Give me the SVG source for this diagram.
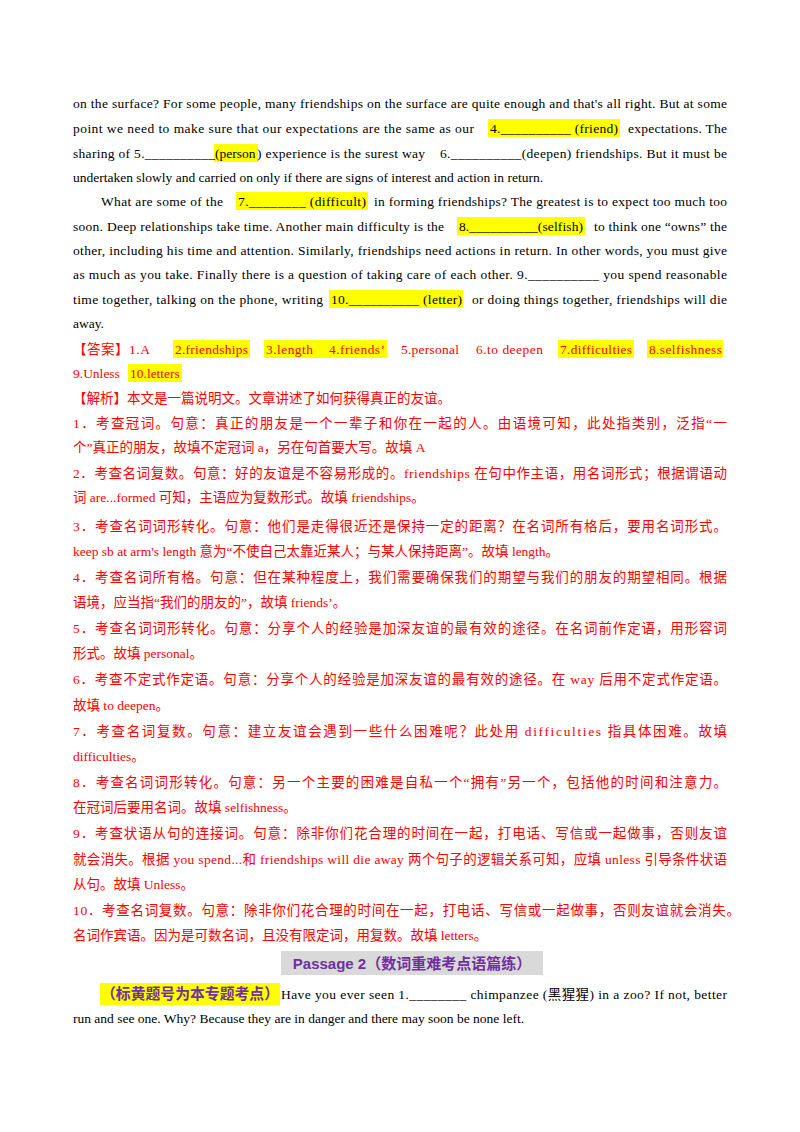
<svg xmlns="http://www.w3.org/2000/svg" width="800" height="1132" viewBox="0 0 800 1132">
<style>
text{font-family:"Liberation Serif","Noto Sans CJK SC",serif;font-size:13.5px;fill:#000}
.r{fill:#ff0000}
.hl{fill:#ffff00}
.h{font-family:"Liberation Sans","Noto Sans CJK SC",sans-serif;font-weight:bold;font-size:15px;fill:#7030a0}
.k{font-family:"Noto Sans CJK SC",sans-serif;font-weight:bold;fill:#7030a0}
</style>
<rect width="800" height="1132" fill="#fff"/>
<g id="highlights">
<rect class="hl" x="488" y="119" width="132" height="18"/>
<rect class="hl" x="214" y="144" width="44" height="18"/>
<rect class="hl" x="236" y="192" width="132" height="18"/>
<rect class="hl" x="457" y="217" width="128" height="18"/>
<rect class="hl" x="329" y="290" width="134" height="18"/>
<rect class="hl" x="173" y="340" width="77" height="18"/>
<rect class="hl" x="264" y="340" width="123" height="18"/>
<rect class="hl" x="558" y="340" width="76" height="18"/>
<rect class="hl" x="647" y="340" width="76" height="18"/>
<rect class="hl" x="128" y="364" width="54" height="18"/>
<rect x="281" y="951" width="262" height="24" fill="#d9d9d9"/>
<rect class="hl" x="100" y="983" width="180" height="22"/>
</g>
<g id="passage">
<text x="73" y="108" textLength="654" lengthAdjust="spacing">on the surface? For some people, many friendships on the surface are quite enough and that's all right. But at some</text>
<text x="73" y="133" textLength="401" lengthAdjust="spacing">point we need to make sure that our expectations are the same as our</text>
<text x="490" y="133" textLength="128" lengthAdjust="spacing">4.__________ (friend)</text>
<text x="628" y="133" textLength="99" lengthAdjust="spacing">expectations. The</text>
<text x="73" y="158" textLength="142" lengthAdjust="spacing">sharing of 5.__________</text>
<text x="215" y="158">(person</text>
<text x="257" y="158" textLength="168" lengthAdjust="spacing">) experience is the surest way</text>
<text x="440" y="158" textLength="287" lengthAdjust="spacing">6.__________(deepen) friendships. But it must be</text>
<text x="73" y="182">undertaken slowly and carried on only if there are signs of interest and action in return.</text>
<text x="101" y="206" textLength="122" lengthAdjust="spacing">What are some of the</text>
<text x="238" y="206" textLength="128" lengthAdjust="spacing">7.________ (difficult)</text>
<text x="374" y="206" textLength="353" lengthAdjust="spacing">in forming friendships? The greatest is to expect too much too</text>
<text x="73" y="231" textLength="371" lengthAdjust="spacing">soon. Deep relationships take time. Another main difficulty is the</text>
<text x="459" y="231" textLength="124" lengthAdjust="spacing">8.__________(selfish)</text>
<text x="594" y="231" textLength="133" lengthAdjust="spacing">to think one “owns” the</text>
<text x="73" y="255" textLength="654" lengthAdjust="spacing">other, including his time and attention. Similarly, friendships need actions in return. In other words, you must give</text>
<text x="73" y="279" textLength="654" lengthAdjust="spacing">as much as you take. Finally there is a question of taking care of each other. 9.__________ you spend reasonable</text>
<text x="73" y="304" textLength="250" lengthAdjust="spacing">time together, talking on the phone, writing</text>
<text x="331" y="304" textLength="131" lengthAdjust="spacing">10.__________ (letter)</text>
<text x="472" y="304" textLength="255" lengthAdjust="spacing">or doing things together, friendships will die</text>
<text x="73" y="328">away.</text>
</g>
<g id="answer">
<text class="r" x="73" y="354" textLength="77" lengthAdjust="spacing">【答案】1.A</text>
<text class="r" x="175" y="354" textLength="73" lengthAdjust="spacing">2.friendships</text>
<text class="r" x="266" y="354" textLength="47" lengthAdjust="spacing">3.length</text>
<text class="r" x="329" y="354" textLength="56" lengthAdjust="spacing">4.friends’</text>
<text class="r" x="401" y="354" textLength="58" lengthAdjust="spacing">5.personal</text>
<text class="r" x="476" y="354" textLength="67" lengthAdjust="spacing">6.to deepen</text>
<text class="r" x="560" y="354" textLength="72" lengthAdjust="spacing">7.difficulties</text>
<text class="r" x="649" y="354" textLength="73" lengthAdjust="spacing">8.selfishness</text>
<text class="r" x="73" y="378">9.Unless</text>
<text class="r" x="130" y="378">10.letters</text>
</g>
<g id="analysis">
<text class="r" x="73" y="403">【解析】本文是一篇说明文。文章讲述了如何获得真正的友谊。</text>
<text class="r" x="73" y="428" textLength="654" lengthAdjust="spacing">1．考查冠词。句意：真正的朋友是一个一辈子和你在一起的人。由语境可知，此处指类别，泛指“一</text>
<text class="r" x="73" y="452">个”真正的朋友，故填不定冠词 a，另在句首要大写。故填 A</text>
<text class="r" x="73" y="478" textLength="654" lengthAdjust="spacing">2．考查名词复数。句意：好的友谊是不容易形成的。friendships 在句中作主语，用名词形式；根据谓语动</text>
<text class="r" x="73" y="502">词 are...formed 可知，主语应为复数形式。故填 friendships。</text>
<text class="r" x="73" y="531" textLength="654" lengthAdjust="spacing">3．考查名词词形转化。句意：他们是走得很近还是保持一定的距离？在名词所有格后，要用名词形式。</text>
<text class="r" x="73" y="556">keep sb at arm's length 意为“不使自己太靠近某人；与某人保持距离”。故填 length。</text>
<text class="r" x="73" y="582" textLength="654" lengthAdjust="spacing">4．考查名词所有格。句意：但在某种程度上，我们需要确保我们的期望与我们的朋友的期望相同。根据</text>
<text class="r" x="73" y="607">语境，应当指“我们的朋友的”，故填 friends’。</text>
<text class="r" x="73" y="633" textLength="654" lengthAdjust="spacing">5．考查名词词形转化。句意：分享个人的经验是加深友谊的最有效的途径。在名词前作定语，用形容词</text>
<text class="r" x="73" y="658">形式。故填 personal。</text>
<text class="r" x="73" y="684" textLength="654" lengthAdjust="spacing">6．考查不定式作定语。句意：分享个人的经验是加深友谊的最有效的途径。在 way 后用不定式作定语。</text>
<text class="r" x="73" y="710">故填 to deepen。</text>
<text class="r" x="73" y="736" textLength="654" lengthAdjust="spacing">7．考查名词复数。句意：建立友谊会遇到一些什么困难呢？此处用 difficulties 指具体困难。故填</text>
<text class="r" x="73" y="761">difficulties。</text>
<text class="r" x="73" y="787" textLength="654" lengthAdjust="spacing">8．考查名词词形转化。句意：另一个主要的困难是自私一个“拥有”另一个，包括他的时间和注意力。</text>
<text class="r" x="73" y="812">在冠词后要用名词。故填 selfishness。</text>
<text class="r" x="73" y="838" textLength="654" lengthAdjust="spacing">9．考查状语从句的连接词。句意：除非你们花合理的时间在一起，打电话、写信或一起做事，否则友谊</text>
<text class="r" x="73" y="864" textLength="654" lengthAdjust="spacing">就会消失。根据 you spend...和 friendships will die away 两个句子的逻辑关系可知，应填 unless 引导条件状语</text>
<text class="r" x="73" y="889">从句。故填 Unless。</text>
<text class="r" x="73" y="915" textLength="667" lengthAdjust="spacing">10．考查名词复数。句意：除非你们花合理的时间在一起，打电话、写信或一起做事，否则友谊就会消失。</text>
<text class="r" x="73" y="940">名词作宾语。因为是可数名词，且没有限定词，用复数。故填 letters。</text>
</g>
<g id="passage2">
<text class="h" x="412" y="969" text-anchor="middle">Passage 2（数词重难考点语篇练）</text>
<text class="k" x="101" y="999" style="font-size:15px" textLength="178" lengthAdjust="spacingAndGlyphs">（标黄题号为本专题考点）</text>
<text x="281" y="999" textLength="446" lengthAdjust="spacing">Have you ever seen 1.________ chimpanzee (黑猩猩) in a zoo? If not, better</text>
<text x="73" y="1023">run and see one. Why? Because they are in danger and there may soon be none left.</text>
</g>
</svg>
